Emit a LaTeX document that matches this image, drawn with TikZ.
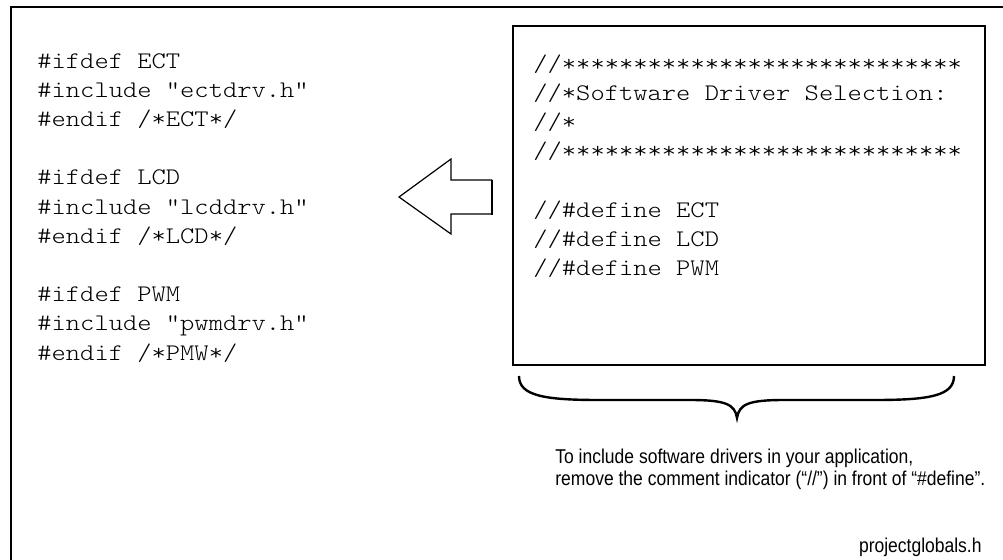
\documentclass[tikz,border=0pt]{standalone}
\usepackage{fontspec}
\setmonofont{Latin Modern Mono Light}[FakeStretch=1.143]
\setsansfont{Liberation Sans}[FakeStretch=0.875]
\usepackage{tikz}
\usetikzlibrary{positioning}

\begin{document}
\begin{tikzpicture}[x=0.5pt, y=-0.5pt,
            code/.style={font=\ttfamily\fontsize{11.9}{14}\selectfont, anchor=base west, inner sep=0pt},
            note/.style={font=\sffamily\fontsize{10}{12}\selectfont, anchor=base west, inner sep=0pt},
            frame/.style={line width=1.4pt},
            panel/.style={line width=1pt}]
            \useasboundingbox (0,0) rectangle (1003,559);
            % Outer frame (cut off on the right and at the bottom)
            \draw[frame] (1010,7) -- (11,7) -- (11,570);
            
            % Header file on the left
            \foreach \t [count=\i from 0] in {{\#ifdef ECT}, {\#include "ectdrv.h"}, {\#endif /*ECT*/}, {},
                {\#ifdef LCD}, {\#include "lcddrv.h"}, {\#endif /*LCD*/}, {},
                {\#ifdef PWM}, {\#include "pwmdrv.h"}, {\#endif /*PMW*/}}
                \node[code] (inc\i) at (37, {68+29.2*\i}) {\t};
            
            % Selection box on the right
            \draw[panel] (513,26) rectangle (985,365);
            \foreach \t [count=\i from 0] in {{//****************************}, {//*Software Driver Selection:},
                {//*}, {//****************************}, {},
                {//\#define ECT}, {//\#define LCD}, {//\#define PWM}}
                \node[code] (sel\i) at (533, {71+29.2*\i}) {\t};
            
            % Hollow arrow pointing left
            \draw[line width=0.6pt, line join=miter] (492,180) -- (451,180) -- (451,159) -- (399,197)
                -- (451,234) -- (451,214) -- (492,214);
            \draw[line width=1pt] (492,179.5) -- (492,214.5);
            
            % Brace under the selection box
            \draw[line width=1.2pt] (519,376) .. controls (519,396) and (545,400) .. (600,400) -- (690,400)
                .. controls (725,400) and (735,404) .. (737,418)
                .. controls (739,404) and (749,400) .. (784,400) -- (874,400)
                .. controls (929,400) and (954,396) .. (954,376);
            
            \node[note] (hint1) at (555,463) {To include software drivers in your application,};
            \node[note] (hint2) at (555,485) {remove the comment indicator (“//”) in front of “\#define”.};
            \node[note, anchor=base east] (fname) at (982,552) {projectglobals.h};
        \end{tikzpicture}
\end{document}
